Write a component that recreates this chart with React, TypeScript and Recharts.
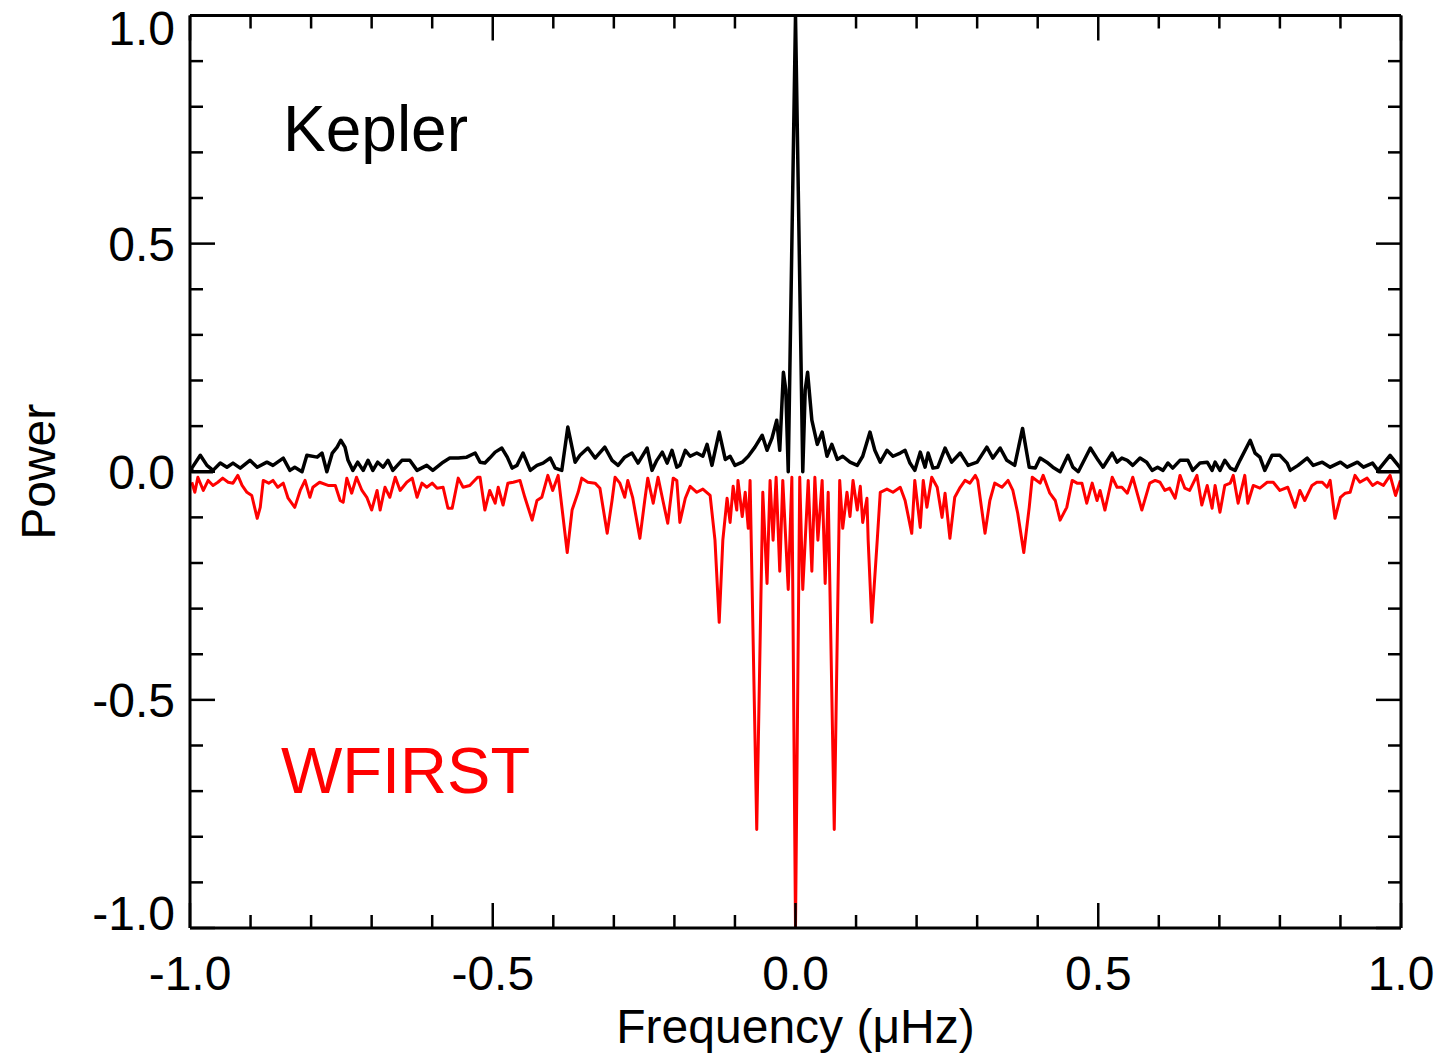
import React from 'react'
import { LineChart, Line, XAxis, YAxis } from 'recharts'

// Spectral window of Kepler (black, positive) vs WFIRST (red, drawn negative).
// Values; frequency in µHz, power normalised.

const FONT = '"Liberation Sans", Arial, Helvetica, sans-serif'

const X_TICKS = [-1, -0.9, -0.8, -0.7, -0.6, -0.5, -0.4, -0.3, -0.2, -0.1, 0, 0.1, 0.2, 0.3, 0.4, 0.5, 0.6, 0.7, 0.8, 0.9, 1]
const Y_TICKS = [-1, -0.9, -0.8, -0.7, -0.6, -0.5, -0.4, -0.3, -0.2, -0.1, 0, 0.1, 0.2, 0.3, 0.4, 0.5, 0.6, 0.7, 0.8, 0.9, 1]

const KEPLER_FREQ = [
  -0.962, -0.997, -0.997, -0.983, -0.972, -0.962, -0.95, -0.939, -0.929, -0.917, -0.901, -0.889, -0.873, -0.863,
  -0.846, -0.835, -0.827, -0.815, -0.807, -0.79, -0.782, -0.774, -0.765, -0.757, -0.751, -0.744, -0.739, -0.731,
  -0.723, -0.714, -0.706, -0.698, -0.69, -0.681, -0.673, -0.665, -0.65, -0.637, -0.625, -0.609, -0.599, -0.582,
  -0.571, -0.557, -0.543, -0.529, -0.521, -0.513, -0.505, -0.496, -0.485, -0.476, -0.468, -0.46, -0.45, -0.438,
  -0.427, -0.417, -0.405, -0.397, -0.386, -0.376, -0.364, -0.356, -0.343, -0.331, -0.315, -0.303, -0.293, -0.282,
  -0.27, -0.26, -0.245, -0.237, -0.229, -0.22, -0.212, -0.204, -0.196, -0.191, -0.182, -0.174, -0.163, -0.153,
  -0.146, -0.138, -0.126, -0.116, -0.108, -0.1, -0.088, -0.078, -0.067, -0.055, -0.047, -0.039, -0.031, -0.026,
  -0.02, -0.016, -0.012, 0, 0.012, 0.016, 0.02, 0.027, 0.036, 0.044, 0.052, 0.06, 0.069, 0.078, 0.09, 0.102, 0.111,
  0.123, 0.131, 0.14, 0.151, 0.161, 0.173, 0.181, 0.189, 0.197, 0.206, 0.214, 0.219, 0.227, 0.235, 0.247, 0.258,
  0.272, 0.285, 0.3, 0.316, 0.326, 0.338, 0.349, 0.362, 0.375, 0.386, 0.396, 0.404, 0.415, 0.425, 0.437, 0.45,
  0.458, 0.467, 0.475, 0.487, 0.5, 0.508, 0.523, 0.531, 0.539, 0.548, 0.557, 0.569, 0.58, 0.589, 0.598, 0.607,
  0.615, 0.623, 0.635, 0.648, 0.656, 0.668, 0.68, 0.688, 0.693, 0.701, 0.709, 0.718, 0.726, 0.734, 0.751, 0.759,
  0.767, 0.775, 0.787, 0.8, 0.812, 0.817, 0.83, 0.845, 0.855, 0.87, 0.883, 0.9, 0.911, 0.928, 0.938, 0.953, 0.962,
  0.982, 0.999, 0.999, 0.961,
]
const KEPLER_POWER = [
  0, 0, 0.008, 0.036, 0.014, 0.003, 0.019, 0.01, 0.019, 0.008, 0.025, 0.01, 0.021, 0.014,
  0.03, 0.003, 0.01, 0, 0.036, 0.032, 0.041, 0, 0.041, 0.054, 0.069, 0.054, 0.025, 0.003,
  0.021, 0.003, 0.025, 0.003, 0.021, 0.01, 0.025, 0.003, 0.025, 0.025, 0.003, 0.014, 0.003, 0.021,
  0.03, 0.03, 0.032, 0.041, 0.021, 0.019, 0.03, 0.043, 0.052, 0.032, 0.008, 0.014, 0.041, 0.003,
  0.014, 0.019, 0.03, 0.008, 0.003, 0.098, 0.021, 0.036, 0.052, 0.03, 0.054, 0.025, 0.014, 0.032,
  0.041, 0.019, 0.052, 0.003, 0.025, 0.043, 0.019, 0.047, 0.01, 0.014, 0.047, 0.034, 0.041, 0.034,
  0.06, 0.014, 0.087, 0.027, 0.034, 0.014, 0.021, 0.034, 0.054, 0.08, 0.047, 0.073, 0.113, 0.047,
  0.218, 0.179, 0, 1, 0, 0.179, 0.218, 0.113, 0.06, 0.087, 0.034, 0.06, 0.027, 0.034, 0.021, 0.014, 0.034,
  0.087, 0.047, 0.021, 0.047, 0.034, 0.041, 0.047, 0.019, 0.003, 0.043, 0.01, 0.041, 0.008, 0.01, 0.052, 0.021,
  0.041, 0.014, 0.021, 0.054, 0.03, 0.052, 0.025, 0.014, 0.095, 0.01, 0.008, 0.03, 0.021, 0.01, 0, 0.036,
  0.01, 0, 0.021, 0.052, 0.025, 0.01, 0.041, 0.021, 0.03, 0.025, 0.014, 0.03, 0.021, 0.003, 0.01, 0.003,
  0.019, 0.008, 0.025, 0.025, 0.003, 0.019, 0.021, 0.003, 0.021, 0.003, 0.025, 0.008, 0.003, 0.025, 0.069, 0.041,
  0.032, 0.003, 0.036, 0.036, 0.019, 0.003, 0.014, 0.03, 0.014, 0.021, 0.01, 0.021, 0.01, 0.021, 0.01, 0.019, 0.003,
  0.036, 0.008, 0, 0,
]

const WFIRST_FREQ = [
  -0.997, -0.992, -0.987, -0.978, -0.97, -0.962, -0.954, -0.946, -0.937, -0.929, -0.921, -0.914, -0.906, -0.898,
  -0.889, -0.884, -0.879, -0.87, -0.863, -0.855, -0.846, -0.838, -0.827, -0.818, -0.81, -0.802, -0.797, -0.786,
  -0.772, -0.76, -0.752, -0.747, -0.741, -0.733, -0.725, -0.716, -0.708, -0.7, -0.691, -0.686, -0.678, -0.67,
  -0.661, -0.653, -0.642, -0.633, -0.625, -0.617, -0.609, -0.6, -0.592, -0.582, -0.574, -0.567, -0.557, -0.549,
  -0.538, -0.525, -0.521, -0.513, -0.505, -0.496, -0.491, -0.483, -0.475, -0.466, -0.455, -0.447, -0.435, -0.427,
  -0.419, -0.409, -0.401, -0.392, -0.377, -0.369, -0.359, -0.353, -0.343, -0.331, -0.323, -0.311, -0.303, -0.298,
  -0.29, -0.282, -0.277, -0.269, -0.257, -0.249, -0.244, -0.235, -0.227, -0.219, -0.211, -0.202, -0.196, -0.191,
  -0.182, -0.174, -0.163, -0.153, -0.141, -0.133, -0.126, -0.12, -0.113, -0.108, -0.103, -0.097, -0.095, -0.088,
  -0.083, -0.078, -0.075, -0.064, -0.054, -0.047, -0.042, -0.037, -0.032, -0.026, -0.021, -0.012, -0.006, 0,
  0.007, 0.012, 0.021, 0.027, 0.032, 0.037, 0.044, 0.049, 0.054, 0.064, 0.073, 0.078, 0.085, 0.09, 0.095, 0.102,
  0.107, 0.111, 0.118, 0.12, 0.126, 0.135, 0.14, 0.151, 0.161, 0.173, 0.181, 0.192, 0.197, 0.206, 0.211, 0.217,
  0.225, 0.234, 0.242, 0.247, 0.255, 0.263, 0.272, 0.28, 0.288, 0.297, 0.301, 0.313, 0.321, 0.329, 0.341, 0.351,
  0.359, 0.367, 0.377, 0.386, 0.391, 0.404, 0.409, 0.42, 0.429, 0.437, 0.448, 0.457, 0.465, 0.473, 0.481, 0.49,
  0.498, 0.503, 0.511, 0.523, 0.531, 0.539, 0.548, 0.557, 0.572, 0.585, 0.594, 0.602, 0.61, 0.618, 0.627, 0.635,
  0.643, 0.651, 0.663, 0.671, 0.68, 0.688, 0.693, 0.701, 0.709, 0.718, 0.723, 0.731, 0.742, 0.747, 0.756, 0.767,
  0.779, 0.789, 0.8, 0.813, 0.825, 0.833, 0.841, 0.853, 0.861, 0.87, 0.878, 0.883, 0.891, 0.9, 0.908, 0.916,
  0.924, 0.932, 0.944, 0.953, 0.961, 0.971, 0.982, 0.991, 0.999,
]
const WFIRST_POWER = [
  -0.023, -0.045, -0.012, -0.041, -0.019, -0.03, -0.023, -0.014, -0.023, -0.025, -0.008, -0.03, -0.045, -0.052,
  -0.102, -0.078, -0.019, -0.025, -0.019, -0.034, -0.025, -0.058, -0.078, -0.041, -0.019, -0.056, -0.034, -0.023,
  -0.03, -0.03, -0.063, -0.067, -0.014, -0.047, -0.012, -0.041, -0.056, -0.084, -0.041, -0.084, -0.034, -0.056,
  -0.012, -0.041, -0.023, -0.014, -0.056, -0.025, -0.034, -0.025, -0.036, -0.034, -0.08, -0.08, -0.014, -0.034,
  -0.03, -0.012, -0.012, -0.084, -0.041, -0.069, -0.034, -0.073, -0.025, -0.023, -0.019, -0.056, -0.106, -0.063,
  -0.056, -0.008, -0.041, -0.008, -0.177, -0.084, -0.045, -0.014, -0.023, -0.025, -0.036, -0.135, -0.063, -0.012,
  -0.025, -0.056, -0.019, -0.056, -0.146, -0.063, -0.014, -0.069, -0.012, -0.063, -0.113, -0.014, -0.019, -0.111,
  -0.058, -0.032, -0.045, -0.038, -0.052, -0.15, -0.33, -0.15, -0.058, -0.111, -0.032, -0.084, -0.019, -0.098,
  -0.045, -0.124, -0.019, -0.784, -0.045, -0.245, -0.019, -0.15, -0.012, -0.218, -0.019, -0.258, -0.012, -1,
  -0.012, -0.258, -0.019, -0.218, -0.012, -0.15, -0.019, -0.245, -0.045, -0.784, -0.019, -0.124, -0.045, -0.098, -0.019, -0.084,
  -0.032, -0.111, -0.058, -0.15, -0.33, -0.15, -0.045, -0.038, -0.045, -0.034, -0.063, -0.135, -0.019, -0.122, -0.019, -0.078,
  -0.012, -0.034, -0.1, -0.047, -0.146, -0.056, -0.034, -0.019, -0.025, -0.008, -0.019, -0.135, -0.063, -0.025, -0.034, -0.019,
  -0.041, -0.091, -0.177, -0.078, -0.012, -0.025, -0.008, -0.047, -0.063, -0.106, -0.078, -0.019, -0.025, -0.025, -0.069, -0.025,
  -0.063, -0.041, -0.084, -0.012, -0.034, -0.034, -0.047, -0.012, -0.084, -0.025, -0.019, -0.023, -0.041, -0.036, -0.058, -0.008,
  -0.036, -0.041, -0.008, -0.073, -0.03, -0.08, -0.03, -0.089, -0.03, -0.025, -0.008, -0.069, -0.008, -0.069, -0.03, -0.036,
  -0.023, -0.023, -0.041, -0.034, -0.078, -0.041, -0.063, -0.03, -0.023, -0.023, -0.034, -0.019, -0.102, -0.056, -0.047, -0.045,
  -0.008, -0.023, -0.014, -0.03, -0.023, -0.03, -0.008, -0.052, -0.019,
]

const kepler = KEPLER_FREQ.map((f, i) => ({ f, p: KEPLER_POWER[i] }))
const wfirst = WFIRST_FREQ.map((f, i) => ({ f, p: WFIRST_POWER[i] }))

const isMajor = (v: number) => Math.abs(v * 2 - Math.round(v * 2)) < 1e-6
const fmt = (v: number) => (Math.abs(v) < 1e-9 ? '0.0' : v.toFixed(1))
const MAJOR = 25
const MINOR = 13

// tickSize/tickMargin are 0, so x/y arrive on the axis line; ticks are drawn inward by hand
function BottomTick({ x, y, payload }: any) {
  const major = isMajor(payload.value)
  return (
    <g>
      <line x1={x} x2={x} y1={y} y2={y - (major ? MAJOR : MINOR)} stroke="#000" strokeWidth={2.5} />
      {major && (
        <text x={x} y={y + 62} textAnchor="middle" fontSize={48} fontFamily={FONT} fill="#000">
          {fmt(payload.value)}
        </text>
      )}
    </g>
  )
}

function TopTick({ x, y, payload }: any) {
  const major = isMajor(payload.value)
  return <line x1={x} x2={x} y1={y} y2={y + (major ? MAJOR : MINOR)} stroke="#000" strokeWidth={2.5} />
}

function LeftTick({ x, y, payload }: any) {
  const v = payload.value
  const major = isMajor(v)
  // end labels are nudged inside the frame like in the original
  const nudge = v >= 1 ? 12 : v <= -1 ? -15 : 0
  return (
    <g>
      <line x1={x} x2={x + (major ? MAJOR : MINOR)} y1={y} y2={y} stroke="#000" strokeWidth={2.5} />
      {major && (
        <text x={x - 15} y={y + 17 + nudge} textAnchor="end" fontSize={48} fontFamily={FONT} fill="#000">
          {fmt(v)}
        </text>
      )}
    </g>
  )
}

function RightTick({ x, y, payload }: any) {
  const major = isMajor(payload.value)
  return <line x1={x} x2={x - (major ? MAJOR : MINOR)} y1={y} y2={y} stroke="#000" strokeWidth={2.5} />
}

function FreqTitle({ viewBox }: any) {
  const vb = viewBox || { x: 190, y: 928, width: 1211 }
  return (
    <text x={vb.x + vb.width / 2} y={vb.y + 115} textAnchor="middle" fontSize={48} fontFamily={FONT} fill="#000">
      Frequency (μHz)
    </text>
  )
}

function PowerTitle({ viewBox }: any) {
  const vb = viewBox || { y: 15.5, height: 912.5 }
  const cy = vb.y + vb.height / 2
  return (
    <text x={55} y={cy} transform={`rotate(-90 55 ${cy})`} textAnchor="middle" fontSize={48} fontFamily={FONT} fill="#000">
      Power
    </text>
  )
}

const axisLine = { stroke: '#000', strokeWidth: 3 }

export default function App() {
  return (
    <div style={{ position: 'absolute', left: 0, top: 0, width: 1440, height: 1055, background: '#fff' }}>
      <LineChart width={1440} height={1055} margin={{ top: 5, right: 29, bottom: 0, left: 0 }}>
        <XAxis
          xAxisId="b"
          type="number"
          dataKey="f"
          domain={[-1, 1]}
          allowDataOverflow
          ticks={X_TICKS}
          interval={0}
          orientation="bottom"
          height={127}
          tickSize={0}
          tickMargin={0}
          tickLine={false}
          axisLine={axisLine}
          tick={<BottomTick />}
          label={<FreqTitle />}
        />
        <XAxis
          xAxisId="t"
          type="number"
          dataKey="f"
          domain={[-1, 1]}
          allowDataOverflow
          ticks={X_TICKS}
          interval={0}
          orientation="top"
          height={10.5}
          tickSize={0}
          tickMargin={0}
          tickLine={false}
          axisLine={axisLine}
          tick={<TopTick />}
        />
        <YAxis
          yAxisId="l"
          type="number"
          domain={[-1, 1]}
          allowDataOverflow
          ticks={Y_TICKS}
          interval={0}
          orientation="left"
          width={190}
          tickSize={0}
          tickMargin={0}
          tickLine={false}
          axisLine={axisLine}
          tick={<LeftTick />}
          label={<PowerTitle />}
        />
        <YAxis
          yAxisId="r"
          type="number"
          domain={[-1, 1]}
          allowDataOverflow
          ticks={Y_TICKS}
          interval={0}
          orientation="right"
          width={10}
          tickSize={0}
          tickMargin={0}
          tickLine={false}
          axisLine={axisLine}
          tick={<RightTick />}
        />
        <Line
          data={kepler}
          xAxisId="b"
          yAxisId="l"
          dataKey="p"
          name="Kepler"
          type="linear"
          stroke="#000"
          strokeWidth={3.5}
          strokeLinejoin="round"
          dot={false}
          isAnimationActive={false}
        />
        <Line
          data={wfirst}
          xAxisId="t"
          yAxisId="r"
          dataKey="p"
          name="WFIRST"
          type="linear"
          stroke="#ff0000"
          strokeWidth={3}
          strokeLinejoin="round"
          dot={false}
          isAnimationActive={false}
        />
      </LineChart>
      <svg width={1440} height={1055} style={{ position: 'absolute', left: 0, top: 0, pointerEvents: 'none' }}>
        <text x={283} y={151} fontSize={64} fontFamily={FONT} fill="#000">
          Kepler
        </text>
        <text x={281} y={793} fontSize={65} fontFamily={FONT} fill="#ff0000">
          WFIRST
        </text>
      </svg>
    </div>
  )
}
